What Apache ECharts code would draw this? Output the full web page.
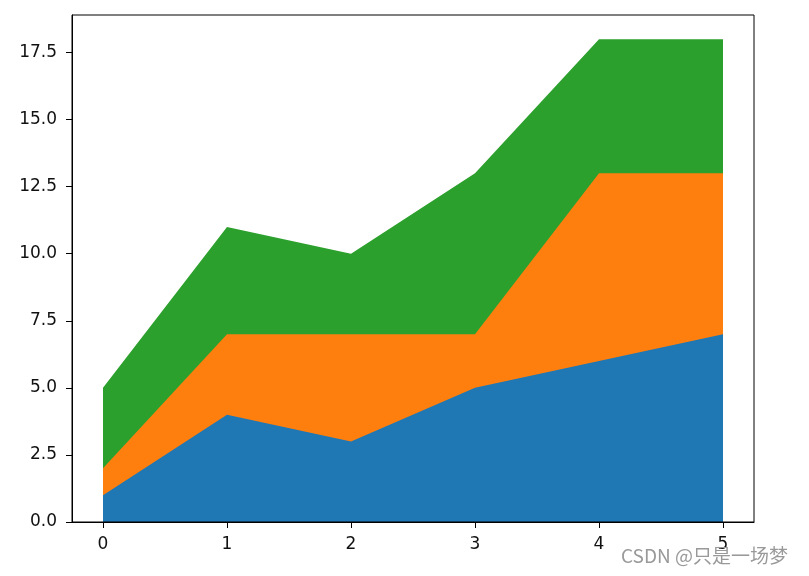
<!DOCTYPE html>
<html>
<head>
<meta charset="utf-8">
<script src="https://cdn.jsdelivr.net/npm/echarts@6/dist/echarts.min.js"></script>
<style>html,body{margin:0;padding:0;background:#fff}#c{width:809px;height:576px}</style>
</head>
<body>
<div id="c"></div>
<script>
const xValues = [0, 1, 2, 3, 4, 5];
const series1 = [1, 4, 3, 5, 6, 7];
const series2 = [1, 3, 4, 2, 7, 6];
const series3 = [3, 4, 3, 6, 5, 5];
const yTicks = [0, 2.5, 5, 7.5, 10, 12.5, 15, 17.5];
const colors = ['#1f77b4', '#ff7f0e', '#2ca02c'];

const chart = echarts.init(document.getElementById('c'));
const font = 'DejaVu Sans';
// cumulative tops (stackplot), drawn top-down so lower layers overlay
const layers = [series1, series2, series3];
const cum = [];
layers.forEach((vals, i) => {
  cum.push(vals.map((v, k) => v + (i > 0 ? cum[i - 1][k] : 0)));
});
function mk(i) {
  return {
    type: 'line', symbol: 'none', silent: true, z: 10 - i,
    data: xValues.map((x, k) => [x, cum[i][k]]),
    lineStyle: { width: 0 },
    areaStyle: { color: colors[i], opacity: 1, origin: 'start' },
    itemStyle: { color: colors[i] }
  };
}
chart.setOption({
  animation: false,
  grid: { left: 72, right: 55, top: 15, bottom: 54, show: true, borderColor: '#000', borderWidth: 1, backgroundColor: 'transparent', z: 20 },
  xAxis: {
    type: 'value', min: -0.25, max: 5.25, z: 20,
    axisLine: { show: true, onZero: false, lineStyle: { color: '#000', width: 1 } },
    axisTick: { show: true, length: 6, lineStyle: { color: '#000' }, customValues: xValues },
    axisLabel: { customValues: xValues, color: '#111', fontFamily: font, fontSize: 17, margin: 14 },
    splitLine: { show: false }
  },
  yAxis: {
    type: 'value', min: 0, max: 18.9, z: 20,
    axisLine: { show: true, onZero: false, lineStyle: { color: '#000', width: 1 } },
    axisTick: { show: true, length: 6, lineStyle: { color: '#000' }, customValues: yTicks },
    axisLabel: { customValues: yTicks, color: '#111', fontFamily: font, fontSize: 17, margin: 15, formatter: v => v.toFixed(1) },
    splitLine: { show: false }
  },
  series: [mk(2), mk(1), mk(0)],
  graphic: [{
    type: 'text', left: 621, top: 546, z: 100,
    style: { text: 'CSDN @只是一场梦', fill: '#999', font: '19px "Noto Sans CJK SC"' }
  }]
});
</script>
</body>
</html>
